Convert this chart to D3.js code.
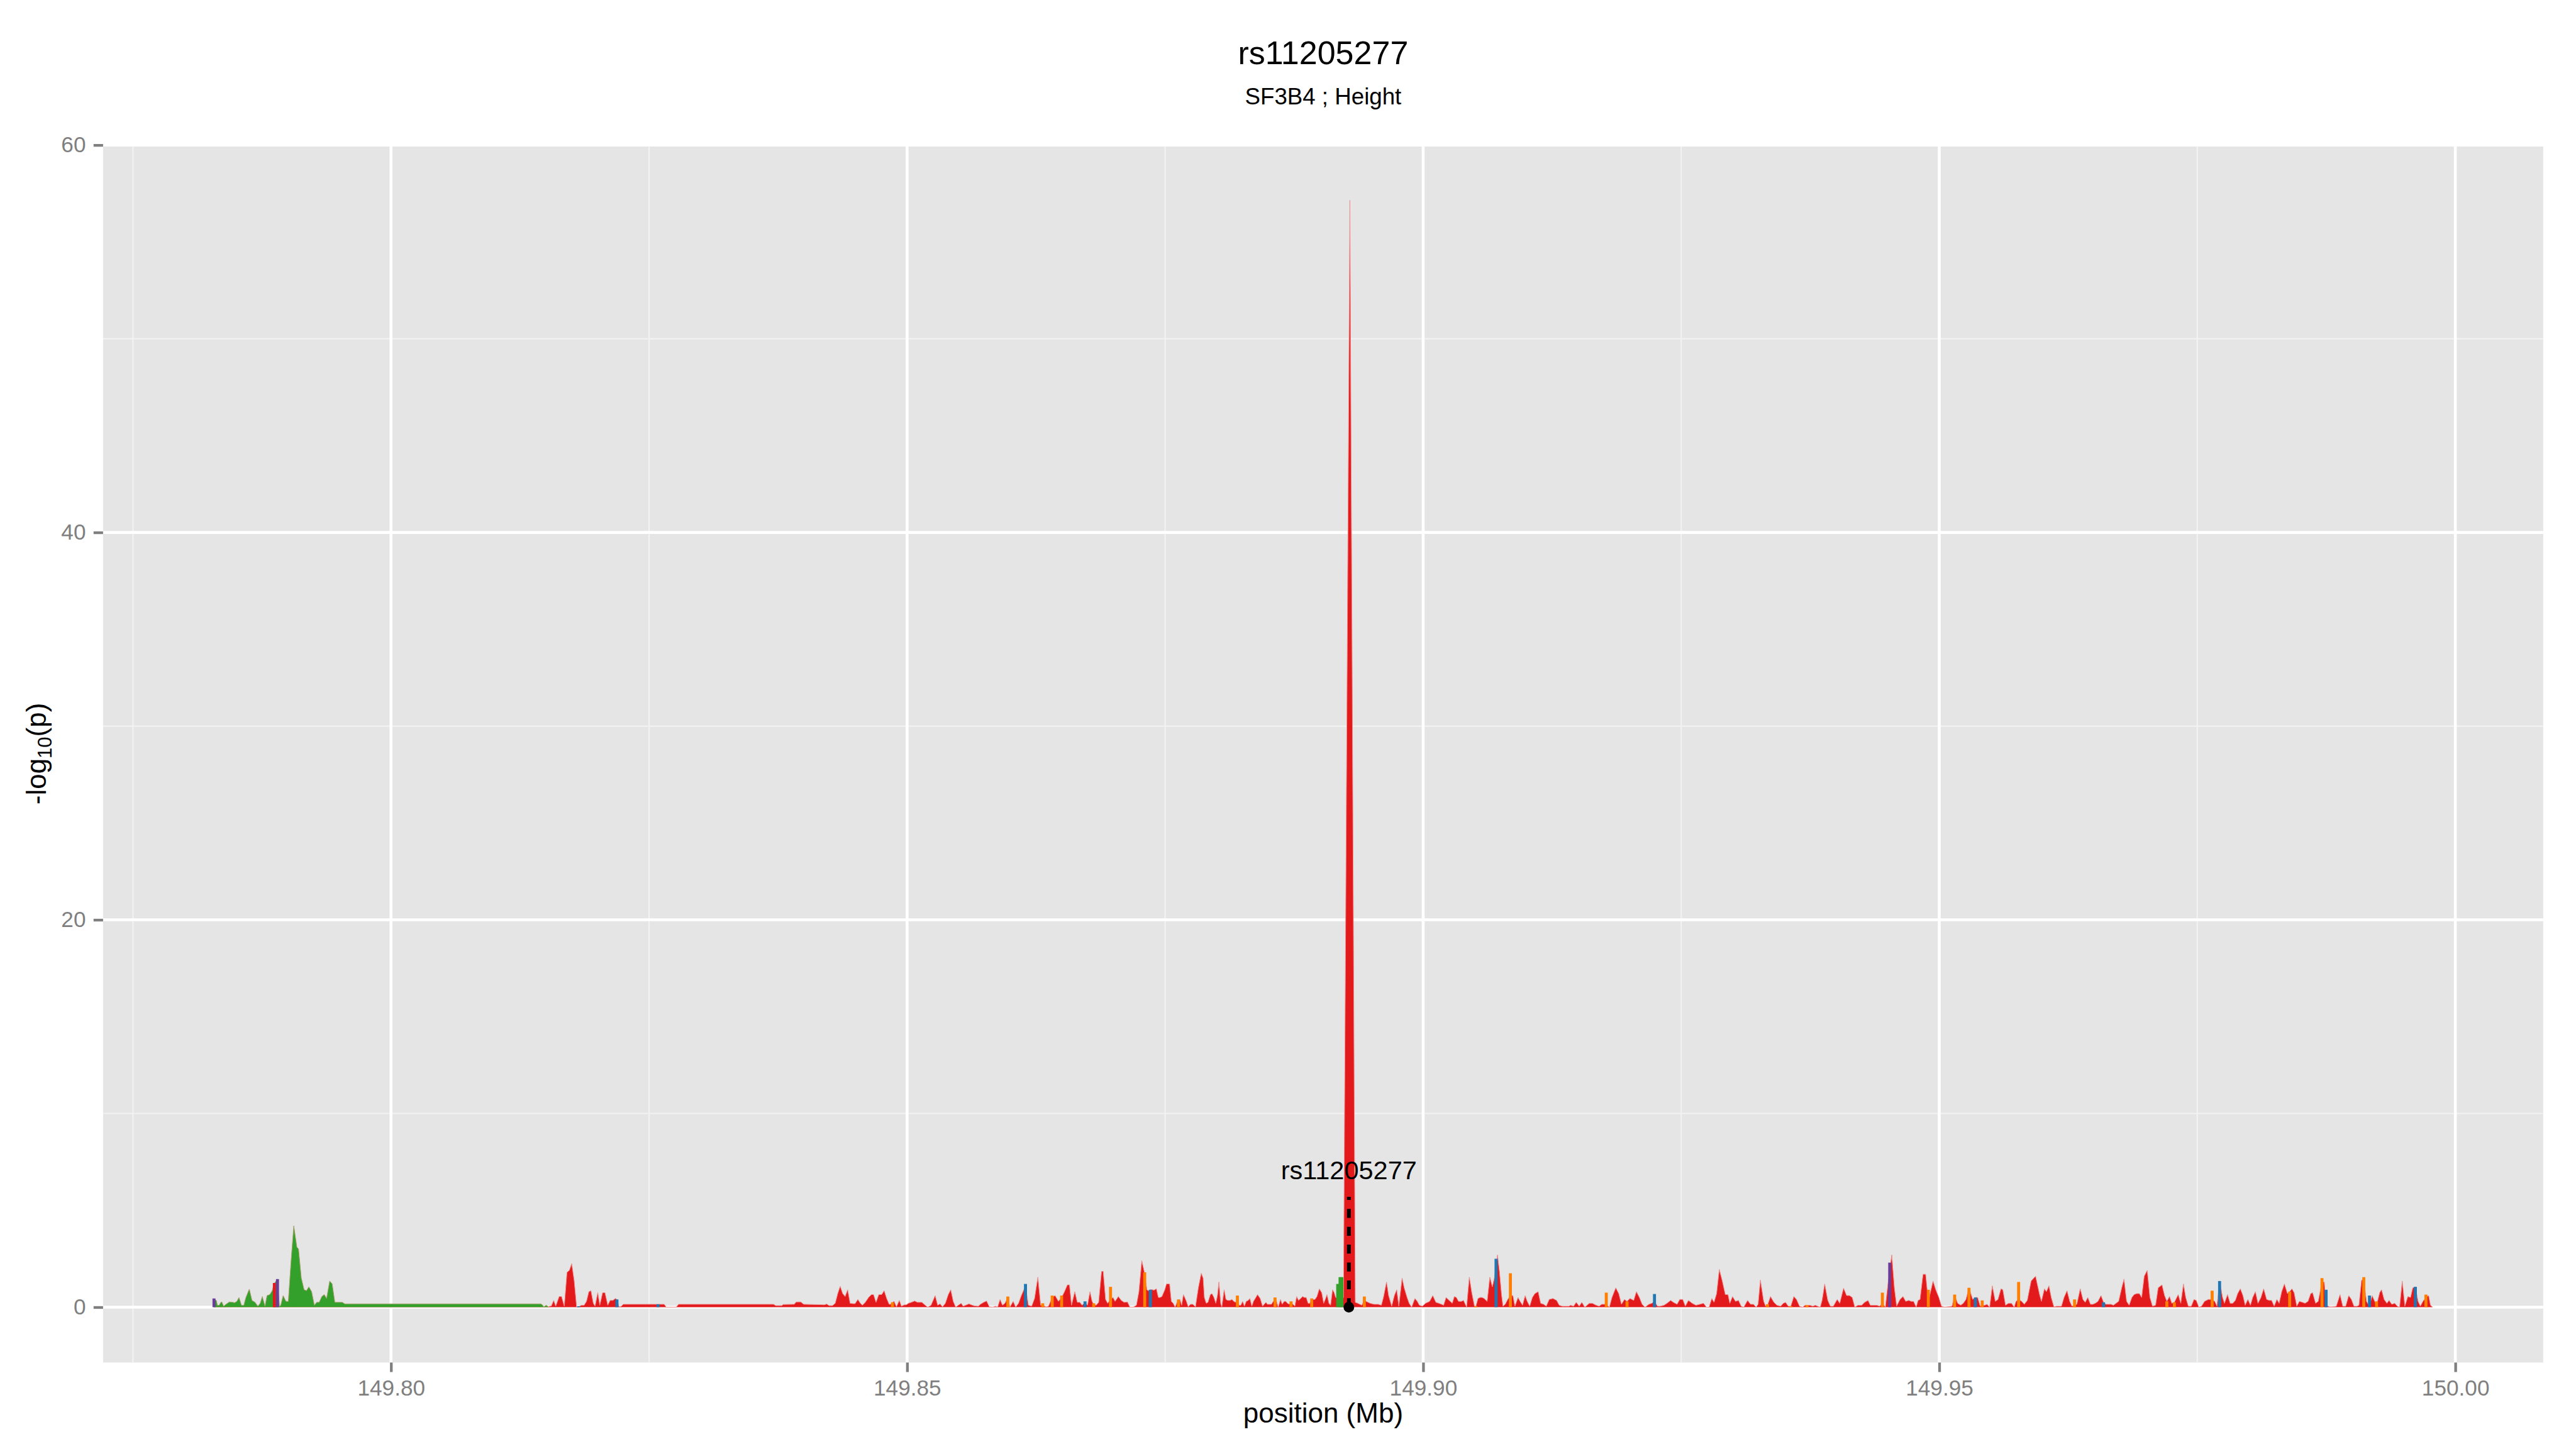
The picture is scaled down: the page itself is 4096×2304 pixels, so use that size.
<!DOCTYPE html>
<html>
<head>
<meta charset="utf-8">
<script src="https://cdn.jsdelivr.net/npm/d3@7"></script>
<style>
  body { margin: 0; background: #fff; }
  svg { display: block; }
  text { font-family: "Liberation Sans", Arial, Helvetica, sans-serif; }
</style>
</head>
<body>
<script>
// Chart text
const titleText = 'rs11205277';
const subtitleText = 'SF3B4 ; Height';
const xTitle = 'position (Mb)';

// Lead SNP
const leadSnp = 'rs11205277';
const leadPos = 149.8928;
const leadLabelLogP = 7;
const leadSegmentTop = 5.7;

// Tick values
const xTickValues = [149.80, 149.85, 149.90, 149.95, 150.00];
const xMinorValues = [149.775, 149.825, 149.875, 149.925, 149.975];
const yTickValues = [0, 20, 40, 60];
const yMinorValues = [10, 30, 50];

// Colour categories
const groupKeys = ['red', 'green', 'blue', 'orange', 'purple'];
const groupColors = ['#e31a1c', '#33a02c', '#1f78b4', '#ff7f00', '#6a3d9a'];

// Green track [position Mb, -log10 p]
const greenTrack = [
  [149.78285,0.4],[149.78308,0.35],[149.78318,0.1],[149.78335,0.1],[149.78352,0.25],[149.78361,0.27],
  [149.78378,0.05],[149.78401,0.15],[149.78434,0.27],[149.78468,0.25],[149.78484,0.23],[149.78507,0.3],
  [149.78527,0.5],[149.78551,0.1],[149.78574,0.1],[149.78594,0.5],[149.78627,0.93],[149.78653,0.35],
  [149.78683,0.25],[149.7871,0.05],[149.78733,0.2],[149.78753,0.55],[149.78779,0.05],[149.78799,0.6],
  [149.78826,0.65],[149.78849,0.85],[149.78866,1.2],[149.78899,1.45],[149.78919,0.05],[149.78932,0.1],
  [149.78955,0.6],[149.78982,0.3],[149.79005,0.3],[149.79032,2.4],[149.79058,4.2],[149.79088,3.1],
  [149.79104,3.0],[149.79131,1.5],[149.79158,0.9],[149.79181,0.85],[149.79204,1.05],[149.79231,0.8],
  [149.79257,0.1],[149.7928,0.25],[149.79304,0.25],[149.7933,0.55],[149.79353,0.65],[149.79376,0.45],
  [149.79406,1.35],[149.7943,1.2],[149.79456,0.25],[149.79479,0.25],[149.79496,0.25],[149.79529,0.25],
  [149.79552,0.17],[149.81453,0.17],[149.8147,0.1],[149.8148,0.02],[149.81503,0.1],[149.81526,0.02]
];

// Red track [position Mb, -log10 p]
const redTrack = [
  [149.81526,0.02],[149.81536,0.05],[149.81553,0.06],[149.81576,0.35],[149.81596,0.05],[149.81629,0.55],
  [149.81652,0.55],[149.81679,0.05],[149.81705,1.8],[149.81728,1.9],[149.81751,2.25],[149.81775,1.35],
  [149.81798,0.02],[149.81818,0.02],[149.81844,0.1],[149.81871,0.1],[149.81894,0.3],[149.81917,0.8],
  [149.81937,0.85],[149.8196,0.2],[149.81977,0.05],[149.82003,0.75],[149.82023,0.1],[149.8205,0.75],
  [149.82073,0.75],[149.821,0.1],[149.82123,0.35],[149.8215,0.35],[149.82173,0.45],[149.82189,0.4],
  [149.82209,0.02],[149.82232,0.05],[149.82249,0.15],[149.82647,0.15],[149.82667,0],[149.82763,0],
  [149.82786,0.15],[149.83707,0.15],[149.83727,0.08],[149.83787,0.08],[149.83799,0.14],[149.83906,0.15],
  [149.83926,0.27],[149.8397,0.27],[149.83998,0.15],[149.84157,0.13],[149.84197,0.12],[149.84221,0.16],
  [149.84245,0.08],[149.84277,0.08],[149.84304,0.2],[149.84328,0.7],[149.84352,1.08],[149.84376,0.7],
  [149.844,0.55],[149.84424,0.9],[149.84448,0.2],[149.84476,0.18],[149.84496,0.18],[149.84523,0.4],
  [149.84547,0.2],[149.84567,0.1],[149.84595,0.25],[149.84627,0.5],[149.84655,0.65],[149.84675,0.65],
  [149.84699,0.25],[149.84726,0.65],[149.84754,0.65],[149.84778,0.85],[149.84802,0.45],[149.84826,0.15],
  [149.84842,0.15],[149.84858,0.25],[149.84874,0.3],[149.84897,0.02],[149.84925,0.35],[149.84945,0.05],
  [149.84973,0.12],[149.84993,0.12],[149.85013,0.2],[149.85041,0.25],[149.85073,0.32],[149.85101,0.25],
  [149.85144,0.25],[149.85176,0.1],[149.852,0],[149.85232,0.1],[149.85272,0.6],[149.85296,0.1],
  [149.8532,0.17],[149.85343,0.02],[149.85371,0.2],[149.85399,0.65],[149.85423,0.9],[149.85447,0.3],
  [149.85471,0],[149.85496,0.1],[149.85524,0.2],[149.85543,0.05],[149.85567,0.1],[149.85599,0.17],
  [149.85623,0.12],[149.8565,0.07],[149.8569,0.05],[149.8571,0.15],[149.85742,0.25],[149.8577,0.32],
  [149.85797,0.02],[149.85829,0],[149.85857,0.05],[149.85877,0],[149.85901,0.4],[149.85924,0.1],
  [149.85948,0.2],[149.85976,0.5],[149.85996,0],[149.86028,0.3],[149.86052,0],[149.8608,0.2],
  [149.86107,0.6],[149.86147,1.1],[149.86175,0.1],[149.86207,0.05],[149.86235,0.45],[149.86267,1.55],
  [149.86294,0.1],[149.86314,0.1],[149.86346,0.02],[149.8637,0.05],[149.86406,0.5],[149.86434,0.6],
  [149.86466,0.3],[149.86497,0.5],[149.86525,0.8],[149.86553,1.15],[149.86573,1.15],[149.86593,0.1],
  [149.86625,0.8],[149.86649,0.25],[149.86673,0.25],[149.86696,0.1],[149.86724,0.25],[149.86748,0.1],
  [149.86772,0.8],[149.86792,0.3],[149.86808,0.15],[149.86832,0.1],[149.86856,0.25],[149.86884,1.85],
  [149.869,1.85],[149.86923,0.4],[149.86943,0.2],[149.86971,0.4],[149.86995,0.5],[149.87015,0.3],
  [149.87047,0.55],[149.87075,0.35],[149.87103,0.25],[149.87135,0.27],[149.87159,0],[149.87191,0],
  [149.87222,0.1],[149.87246,0.8],[149.87274,2.4],[149.87299,1.8],[149.87323,0.9],[149.87337,0.85],
  [149.87357,0.9],[149.87376,0.9],[149.87392,0.88],[149.87415,0.95],[149.87434,0.5],[149.8745,0.5],
  [149.87469,0.55],[149.87497,0.9],[149.87513,1.2],[149.87543,1.2],[149.8756,0.3],[149.87578,0.2],
  [149.87597,0],[149.87615,0.25],[149.87629,0.35],[149.87643,0.4],[149.8766,0.1],[149.87677,0.65],
  [149.8769,0.5],[149.87706,0.3],[149.87724,0.02],[149.87745,0.15],[149.87768,0.15],[149.87794,0.02],
  [149.87822,1.0],[149.8785,1.75],[149.87868,1.5],[149.8788,0.5],[149.87898,0.2],[149.87915,0.25],
  [149.87938,0.65],[149.87954,0.7],[149.87973,0.5],[149.87991,0.2],[149.88007,0.6],[149.88021,1.3],
  [149.88038,0.2],[149.88049,0],[149.88072,0.9],[149.88089,0.4],[149.88107,0.35],[149.88128,0.35],
  [149.88147,0.4],[149.88165,0.3],[149.88182,0.25],[149.882,0.45],[149.88216,0.1],[149.88233,0.1],
  [149.88251,0.3],[149.88268,0.05],[149.88286,0.3],[149.88305,0.35],[149.88321,0.45],[149.8834,0.05],
  [149.88356,0.3],[149.88379,0.5],[149.88395,0.65],[149.88421,0.45],[149.88444,0.05],[149.8846,0.15],
  [149.88477,0.25],[149.8849,0.15],[149.88511,0.15],[149.8853,0.15],[149.88548,0.3],[149.88565,0.4],
  [149.88579,0.3],[149.88595,0],[149.88618,0.4],[149.88634,0.15],[149.88653,0.3],[149.88669,0.3],
  [149.88685,0.2],[149.88704,0.15],[149.8872,0.25],[149.88739,0.15],[149.88757,0.05],[149.88774,0.55],
  [149.88792,0.35],[149.88813,0.45],[149.88832,0.55],[149.88848,0.5],[149.88867,0.5],[149.88885,0.2],
  [149.88901,0.2],[149.8892,0.4],[149.88936,0.4],[149.88952,0.4],[149.88971,0.55],[149.88994,0.95],
  [149.89017,0.75],[149.89036,0.2],[149.89055,0.45],[149.89068,0.65],[149.89087,0.2],[149.89103,0.1],
  [149.89122,0.9],[149.89138,0.75],[149.89152,0.5],[149.89217,0.4],[149.89228,0.5],[149.8929,57.15],
  [149.89342,0.25],[149.89366,0.2],[149.89386,0.15],[149.89406,0.1],[149.8943,0.4],[149.89446,0.3],
  [149.89486,0.2],[149.89526,0.15],[149.89565,0.15],[149.89595,0.1],[149.89615,0.5],[149.89645,1.3],
  [149.89665,0.6],[149.89695,0.05],[149.89721,0.6],[149.89744,0.9],[149.89764,0.05],[149.89796,1.5],
  [149.89816,1.0],[149.89844,0.5],[149.89864,0.2],[149.89888,0],[149.8992,0.45],[149.89943,0.3],
  [149.89963,0.1],[149.89993,0.05],[149.90023,0.2],[149.90063,0.3],[149.90093,0.6],[149.90123,0.25],
  [149.90152,0.2],[149.90178,0.15],[149.90198,0.1],[149.90222,0.5],[149.90252,0.35],[149.90282,0.2],
  [149.90302,0.55],[149.90322,0.5],[149.90342,0.3],[149.90371,0.3],[149.90391,0.35],[149.90421,0],
  [149.90447,1.55],[149.90471,0.75],[149.90497,0.05],[149.90511,0.05],[149.90531,0.45],[149.90551,0.5],
  [149.90571,0.5],[149.90591,0.45],[149.9062,0.3],[149.90646,1.55],[149.9067,1.05],[149.9069,1.5],
  [149.9072,2.7],[149.9074,1.8],[149.90759,0.65],[149.90773,0.05],[149.90795,0.15],[149.90819,0.4],
  [149.90845,0.6],[149.90869,0.6],[149.90889,0.05],[149.90919,0.5],[149.90939,0.3],[149.90963,0.1],
  [149.90988,0.6],[149.91008,0.3],[149.91032,0.05],[149.91058,0.5],[149.91082,0.7],[149.91114,0.8],
  [149.91138,0.2],[149.91167,0.15],[149.91193,0.05],[149.91221,0.4],[149.91257,0.45],[149.91293,0.35],
  [149.91318,0.1],[149.91348,0.05],[149.91384,0.05],[149.91413,0.05],[149.91428,0.1],[149.91457,0.05],
  [149.91483,0.25],[149.91512,0.05],[149.91537,0.25],[149.91566,0],[149.9161,0.2],[149.91639,0.2],
  [149.91676,0.1],[149.91705,0.05],[149.9173,0.15],[149.91749,0.15],[149.91774,0.15],[149.91804,0],
  [149.91829,0.5],[149.91866,1.0],[149.91895,0.7],[149.91921,0.15],[149.9195,0.4],[149.91975,0.3],
  [149.92004,0.45],[149.9204,0.35],[149.92066,0.8],[149.92095,0.5],[149.92121,0.15],[149.9215,0],
  [149.92187,0.15],[149.92216,0.2],[149.92241,0.3],[149.9227,0.05],[149.92296,0.05],[149.92333,0.1],
  [149.92362,0.2],[149.92398,0.35],[149.92424,0.25],[149.9246,0.15],[149.92486,0.4],[149.92515,0.4],
  [149.9254,0.05],[149.9257,0.35],[149.92606,0.2],[149.92643,0.1],[149.92679,0.15],[149.92716,0.2],
  [149.92745,0],[149.9277,0],[149.92796,0.45],[149.92818,0.25],[149.92843,0.7],[149.92869,1.95],
  [149.92898,1.35],[149.92927,0.65],[149.92953,0.65],[149.92971,0.2],[149.92997,0.55],[149.93026,0.3],
  [149.93055,0.35],[149.93081,0.05],[149.93106,0],[149.93143,0.35],[149.93172,0.15],[149.93201,0.15],
  [149.93226,0],[149.93245,0.15],[149.93267,1.4],[149.93299,0.3],[149.93318,0.05],[149.93336,0.1],
  [149.93365,0.55],[149.93398,0.25],[149.93427,0.1],[149.93464,0.05],[149.93489,0.2],[149.93511,0.25],
  [149.93537,0.05],[149.93562,0.05],[149.93591,0.55],[149.93617,0.4],[149.93646,0.05],[149.93675,0],
  [149.93701,0.1],[149.93719,0.1],[149.93748,0.1],[149.93774,0.05],[149.93799,0.1],[149.93847,0],
  [149.93865,0.35],[149.9389,1.2],[149.9392,0.35],[149.93945,0.05],[149.93974,0.05],[149.94011,0.4],
  [149.94036,0.2],[149.94073,0.98],[149.94102,0.6],[149.94131,0.6],[149.94157,0.5],[149.94182,0],
  [149.94212,0.1],[149.94248,0.1],[149.94277,0.25],[149.9431,0.35],[149.94332,0.1],[149.94357,0.1],
  [149.94394,0.1],[149.94423,0.05],[149.94449,0.2],[149.94478,0],[149.94503,1.2],[149.9454,2.7],
  [149.94565,1.0],[149.94587,0.05],[149.9462,0.4],[149.94649,0.55],[149.94675,0.3],[149.94704,0.35],
  [149.94729,0.3],[149.94751,0.3],[149.94777,0],[149.94795,0.35],[149.94814,0.4],[149.94843,1.7],
  [149.94868,1.7],[149.94894,0.3],[149.9494,1.35],[149.94966,0.9],[149.94996,0.5],[149.95022,0.05],
  [149.95051,0],[149.95124,0.05],[149.95149,0.6],[149.95178,0.2],[149.95208,0.1],[149.95233,0.2],
  [149.95259,0.4],[149.95288,1.0],[149.95324,0.4],[149.9535,0.5],[149.95372,0.5],[149.95397,0.05],
  [149.95416,0.1],[149.95441,0.1],[149.95463,0.15],[149.95488,0],[149.95514,1.1],[149.95543,0.3],
  [149.95569,0.4],[149.95598,0.95],[149.95616,0.9],[149.95642,0.1],[149.95671,0.2],[149.957,0.2],
  [149.95726,0],[149.95744,0.3],[149.95769,0.4],[149.95799,0.3],[149.95824,0.15],[149.95853,0.35],
  [149.9589,1.35],[149.95933,1.6],[149.95974,0.6],[149.9599,0.3],[149.96019,0.95],[149.96038,0.8],
  [149.96063,1.1],[149.96085,0.5],[149.96111,0.02],[149.96136,0.05],[149.96184,0.05],[149.96209,0.5],
  [149.96238,0.85],[149.96264,0.3],[149.96286,0.05],[149.96311,0.1],[149.96333,0.15],[149.96366,0.95],
  [149.96392,0.4],[149.96414,0.25],[149.96439,0.5],[149.96465,0.15],[149.96487,0.15],[149.96512,0.2],
  [149.96538,0.3],[149.96567,0.6],[149.96592,0.25],[149.96614,0.15],[149.9664,0.15],[149.96665,0.15],
  [149.96687,0.1],[149.96713,0.2],[149.96738,0.3],[149.96768,1.0],[149.9679,1.45],[149.96815,0.3],
  [149.9684,0.1],[149.96866,0.5],[149.96888,0.65],[149.96913,0.7],[149.96939,0.7],[149.96961,0.5],
  [149.96986,1.6],[149.97015,1.9],[149.97041,0.5],[149.97066,0.05],[149.97096,0.1],[149.97121,1.0],
  [149.97158,1.15],[149.97183,0.6],[149.97205,0.3],[149.97231,0.55],[149.97253,0.2],[149.97278,0.25],
  [149.97315,0.65],[149.9734,0.2],[149.97366,1.2],[149.97388,0.5],[149.97413,0.05],[149.97442,0.05],
  [149.97468,0.4],[149.9749,0.35],[149.97515,0],[149.97541,0.05],[149.9757,0.3],[149.97607,0.4],
  [149.97644,0.4],[149.97669,0.3],[149.97691,0.05],[149.97716,1.35],[149.97745,0.5],[149.97763,0.2],
  [149.97793,0.65],[149.97818,0.2],[149.97844,0.2],[149.97869,0.35],[149.97891,0.7],[149.97917,0.95],
  [149.97942,0.6],[149.97964,0.1],[149.9799,0.4],[149.98015,0.1],[149.98037,0.5],[149.98063,0.8],
  [149.98088,0.2],[149.98117,0.5],[149.98143,0.95],[149.98172,0.4],[149.98198,0.35],[149.9822,0.35],
  [149.98245,0.05],[149.98271,0.4],[149.98293,0.2],[149.98318,0.8],[149.98344,1.2],[149.98373,0.7],
  [149.98395,0.8],[149.98417,0.95],[149.98438,0.75],[149.98464,0.05],[149.98489,0.3],[149.98519,0.25],
  [149.98544,0.2],[149.98573,0.3],[149.98599,0.7],[149.98617,0.75],[149.98646,0.2],[149.98672,0.3],
  [149.98708,1.3],[149.9873,1.3],[149.98748,0.1],[149.98781,0.02],[149.9881,0.02],[149.98847,0.05],
  [149.98883,0.65],[149.98909,0.05],[149.98938,0.05],[149.98967,0.6],[149.98993,0.4],[149.99018,0.05],
  [149.99048,0.05],[149.99066,0.1],[149.99092,1.4],[149.99113,1.4],[149.99139,0.3],[149.99168,0.05],
  [149.99194,0.6],[149.99219,0.3],[149.99237,0.1],[149.99267,0.75],[149.99285,0.9],[149.9931,0.4],
  [149.99337,0.2],[149.99358,0.35],[149.99384,0.15],[149.99413,0.2],[149.99438,0.05],[149.9946,0],
  [149.99486,1.35],[149.99511,0.05],[149.9954,0.55],[149.99566,0.5],[149.99588,1.0],[149.99613,1.05],
  [149.99639,0.3],[149.99661,0.05],[149.99686,0.3],[149.99715,0.5],[149.99741,0.6],[149.99759,0.1],
  [149.99777,0.02]
];

// Single SNPs coloured by other categories [position Mb, -log10 p, category]
const markers = [
  [149.78285,0.45,'purple'],[149.7887,1.25,'red'],[149.789,1.45,'purple'],
  [149.81818,0.05,'blue'],[149.82189,0.4,'blue'],[149.82587,0.15,'blue'],
  [149.84858,0.25,'orange'],[149.85976,0.55,'orange'],[149.86147,1.2,'blue'],[149.86314,0.2,'orange'],
  [149.86406,0.6,'orange'],[149.86497,0.6,'orange'],[149.86724,0.3,'blue'],[149.86808,0.2,'orange'],
  [149.86971,1.05,'orange'],[149.87302,1.8,'orange'],[149.87357,0.9,'blue'],[149.87629,0.4,'orange'],
  [149.882,0.6,'orange'],[149.88565,0.5,'orange'],[149.8872,0.3,'orange'],[149.8892,0.45,'orange'],
  [149.89172,1.2,'green'],[149.89195,1.55,'green'],[149.89212,1.55,'green'],
  [149.8943,0.55,'orange'],[149.90511,0.05,'orange'],[149.90706,2.5,'blue'],[149.90845,1.75,'orange'],
  [149.91774,0.75,'orange'],[149.91975,0.3,'orange'],[149.92241,0.68,'blue'],[149.93336,0.15,'orange'],
  [149.93562,0.05,'orange'],[149.93719,0.1,'orange'],[149.94449,0.75,'orange'],[149.9452,2.3,'purple'],
  [149.94894,0.9,'orange'],[149.95149,0.65,'orange'],[149.95288,1.0,'orange'],[149.9535,0.5,'blue'],
  [149.95416,0.35,'orange'],[149.95769,1.3,'orange'],[149.96311,0.4,'orange'],[149.96592,0.25,'blue'],
  [149.97205,0.3,'orange'],[149.97278,0.25,'orange'],[149.97644,0.85,'orange'],[149.97716,1.35,'blue'],
  [149.98395,0.8,'orange'],[149.98708,1.5,'orange'],[149.98748,0.9,'blue'],[149.99113,1.55,'orange'],
  [149.99168,0.6,'blue'],[149.99237,0.3,'orange'],[149.99613,1.05,'blue'],[149.99715,0.65,'orange']
];

// Set up dimensions and margins
const width = 4096;
const height = 2304;
const margin = { top: 230.4, right: 52.1, bottom: 137.5, left: 163.9 };
const innerW = width - margin.left - margin.right;
const innerH = height - margin.top - margin.bottom;

const svg = d3.select('body')
  .append('svg')
  .attr('width', width)
  .attr('height', height);

svg.append('rect').attr('width', width).attr('height', height).attr('fill', '#fff');

const g = svg.append('g')
  .attr('transform', `translate(${margin.left},${margin.top})`);

// Scales, ggplot style 5% expansion
const allPts = greenTrack.concat(redTrack);
const xExt = d3.extent(allPts, d => d[0]);
const xPad = (xExt[1] - xExt[0]) * 0.05;
const yMax = d3.max(allPts, d => d[1]);
const yPad = yMax * 0.05;

const xScale = d3.scaleLinear()
  .domain([xExt[0] - xPad, xExt[1] + xPad])
  .range([0, innerW]);

const yScale = d3.scaleLinear()
  .domain([-yPad, yMax + yPad])
  .range([innerH, 0]);

const colorScale = d3.scaleOrdinal().domain(groupKeys).range(groupColors);

// Panel background and grid
g.append('rect')
  .attr('width', innerW)
  .attr('height', innerH)
  .attr('fill', '#e5e5e5');

g.selectAll('line.xminor')
  .data(xMinorValues)
  .enter().append('line')
  .attr('x1', d => xScale(d)).attr('x2', d => xScale(d))
  .attr('y1', 0).attr('y2', innerH)
  .attr('stroke', '#f2f2f2').attr('stroke-width', 2.2);

g.selectAll('line.yminor')
  .data(yMinorValues)
  .enter().append('line')
  .attr('y1', d => yScale(d)).attr('y2', d => yScale(d))
  .attr('x1', 0).attr('x2', innerW)
  .attr('stroke', '#f2f2f2').attr('stroke-width', 2.2);

g.selectAll('line.xmajor')
  .data(xTickValues)
  .enter().append('line')
  .attr('x1', d => xScale(d)).attr('x2', d => xScale(d))
  .attr('y1', 0).attr('y2', innerH)
  .attr('stroke', '#fff').attr('stroke-width', 4.6);

g.selectAll('line.ymajor')
  .data(yTickValues)
  .enter().append('line')
  .attr('y1', d => yScale(d)).attr('y2', d => yScale(d))
  .attr('x1', 0).attr('x2', innerW)
  .attr('stroke', '#fff').attr('stroke-width', 4.6);

// Areas
const area = d3.area()
  .x(d => xScale(d[0]))
  .y0(yScale(0))
  .y1(d => yScale(d[1]));

g.append('path')
  .datum(greenTrack)
  .attr('d', area)
  .attr('fill', colorScale('green'))
  .attr('stroke', '#a9a06c')
  .attr('stroke-width', 1);

g.append('path')
  .datum(redTrack)
  .attr('d', area)
  .attr('fill', colorScale('red'))
  .attr('stroke', '#ee8f8f')
  .attr('stroke-width', 1);

// Narrow coloured SNP markers
const markerHalf = 2.4;
const markerArea = d3.area()
  .x(d => xScale(d[0]) + d[2] * markerHalf)
  .y0(yScale(0))
  .y1(d => yScale(d[1]));

g.selectAll('path.marker')
  .data(markers)
  .enter().append('path')
  .attr('class', 'marker')
  .attr('d', m => markerArea([[m[0], m[1], -1], [m[0], m[1], 1]]))
  .attr('fill', m => colorScale(m[2]));

// Lead SNP: dashed segment, point and label
g.append('line')
  .attr('x1', xScale(leadPos)).attr('x2', xScale(leadPos))
  .attr('y1', yScale(0)).attr('y2', yScale(leadSegmentTop))
  .attr('stroke', '#000')
  .attr('stroke-width', 6)
  .attr('stroke-dasharray', '14.2 14.2');

g.append('circle')
  .attr('cx', xScale(leadPos))
  .attr('cy', yScale(0))
  .attr('r', 8.5)
  .attr('fill', '#000');

g.append('text')
  .attr('x', xScale(leadPos))
  .attr('y', yScale(leadLabelLogP))
  .attr('dy', '0.28em')
  .attr('text-anchor', 'middle')
  .style('font-size', '41.5px')
  .attr('fill', '#000')
  .text(leadSnp);

// Axes
const xAxis = g.append('g')
  .attr('transform', `translate(0,${innerH})`)
  .call(d3.axisBottom(xScale)
    .tickValues(xTickValues)
    .tickFormat(d3.format('.2f'))
    .tickSize(15.1)
    .tickPadding(12.8));

const yAxis = g.append('g')
  .call(d3.axisLeft(yScale)
    .tickValues(yTickValues)
    .tickFormat(d3.format('d'))
    .tickSize(15.1)
    .tickPadding(12.3));

[xAxis, yAxis].forEach(ax => {
  ax.select('.domain').remove();
  ax.selectAll('line').attr('stroke', '#7f7f7f').attr('stroke-width', 4.3);
  ax.selectAll('text')
    .attr('fill', '#7f7f7f')
    .style('font-size', '35.2px')
    .style('font-family', '"Liberation Sans", Arial, sans-serif');
});

// Titles
const cx = margin.left + innerW / 2;

svg.append('text')
  .attr('x', cx).attr('y', 101.8)
  .attr('text-anchor', 'middle')
  .style('font-size', '52px')
  .text(titleText);

svg.append('text')
  .attr('x', cx).attr('y', 166.4)
  .attr('text-anchor', 'middle')
  .style('font-size', '36.7px')
  .text(subtitleText);

svg.append('text')
  .attr('x', cx).attr('y', 2262)
  .attr('text-anchor', 'middle')
  .style('font-size', '44px')
  .text(xTitle);

const yLab = svg.append('text')
  .attr('transform', `translate(72.9,${margin.top + innerH / 2}) rotate(-90)`)
  .attr('text-anchor', 'middle')
  .style('font-size', '44px');
yLab.append('tspan').text('-log');
yLab.append('tspan').attr('dy', 9).style('font-size', '31px').text('10');
yLab.append('tspan').attr('dy', -9).text('(p)');
</script>
</body>
</html>
